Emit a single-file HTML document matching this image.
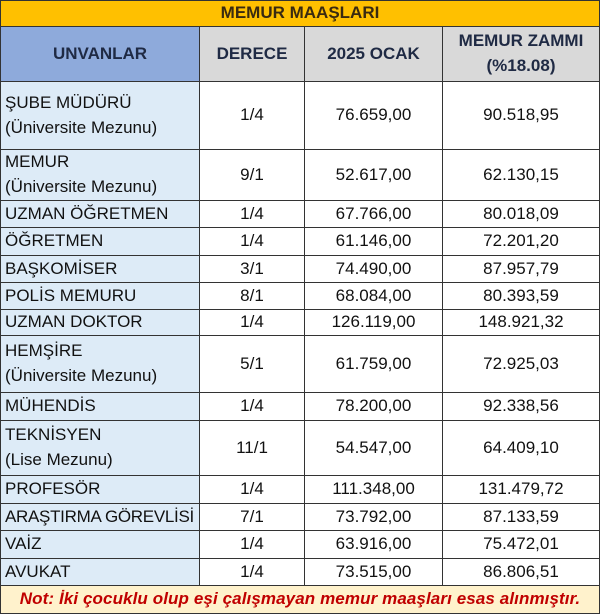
<!DOCTYPE html>
<html><head><meta charset="utf-8"><style>
body{margin:0;width:600px;height:614px;background:#fff;overflow:hidden;font-family:"Liberation Sans",sans-serif;}
.c{position:absolute;box-sizing:border-box;border-right:1px solid #333;border-bottom:1px solid #333;display:flex;align-items:center;justify-content:center;font-size:17px;color:#111;text-align:center;line-height:1.45;white-space:nowrap}
.l{justify-content:flex-start;text-align:left;padding-left:4px;background:#ddebf7}
.h{font-weight:bold;color:#1f2a44;background:#d9d9d9;font-size:17px}
</style></head><body>
<div class="c" style="left:0;top:0;width:600px;height:27px;background:#ffc000;font-weight:bold;color:#3a2a10;border-left:1px solid #333;border-top:1px solid #333">MEMUR MAAŞLARI</div>
<div class="c h" style="left:0;top:27px;width:200px;height:55px;background:#8eaadb;border-left:1px solid #333">UNVANLAR</div>
<div class="c h" style="left:200px;top:27px;width:105px;height:55px">DERECE</div>
<div class="c h" style="left:305px;top:27px;width:138px;height:55px">2025 OCAK</div>
<div class="c h" style="left:443px;top:27px;width:157px;height:55px">MEMUR ZAMMI<br>(%18.08)</div>
<div id="rows"></div>
<div class="c" style="left:0;top:586px;width:600px;height:28px;background:#fff2cc;border-left:1px solid #333;color:#c00000;font-weight:bold;font-style:italic;font-size:17px;letter-spacing:0.1px">Not: İki çocuklu olup eşi çalışmayan memur maaşları esas alınmıştır.</div>
<script>
var t=[82,150,201,228,256,283,310,336,393,421,476,504,531,559,586];
var d=[["ŞUBE MÜDÜRÜ<br>(Üniversite Mezunu)","1/4","76.659,00","90.518,95"],
["MEMUR<br>(Üniversite Mezunu)","9/1","52.617,00","62.130,15"],
["UZMAN ÖĞRETMEN","1/4","67.766,00","80.018,09"],
["ÖĞRETMEN","1/4","61.146,00","72.201,20"],
["BAŞKOMİSER","3/1","74.490,00","87.957,79"],
["POLİS MEMURU","8/1","68.084,00","80.393,59"],
["UZMAN DOKTOR","1/4","126.119,00","148.921,32"],
["HEMŞİRE<br>(Üniversite Mezunu)","5/1","61.759,00","72.925,03"],
["MÜHENDİS","1/4","78.200,00","92.338,56"],
["TEKNİSYEN<br>(Lise Mezunu)","11/1","54.547,00","64.409,10"],
["PROFESÖR","1/4","111.348,00","131.479,72"],
["<span style='letter-spacing:-0.3px'>ARAŞTIRMA GÖREVLİSİ</span>","7/1","73.792,00","87.133,59"],
["VAİZ","1/4","63.916,00","75.472,01"],
["AVUKAT","1/4","73.515,00","86.806,51"]];
var x=[0,200,305,443,600],h="";
for(var i=0;i<d.length;i++){for(var j=0;j<4;j++){
h+='<div class="c'+(j==0?' l':'')+'" style="left:'+x[j]+'px;top:'+t[i]+'px;width:'+(x[j+1]-x[j])+'px;height:'+(t[i+1]-t[i])+'px'+(j==0?';border-left:1px solid #333':'')+'">'+d[i][j]+'</div>';}}
document.getElementById("rows").innerHTML=h;
</script>
</body></html>
